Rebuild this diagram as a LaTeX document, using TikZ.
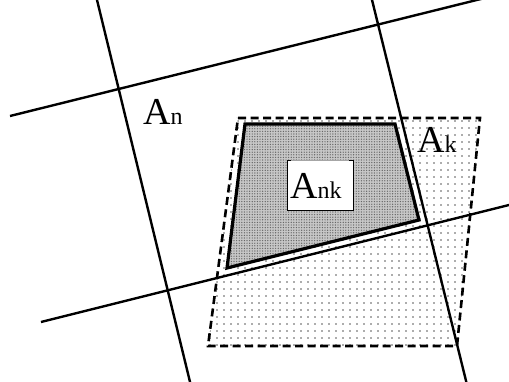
\documentclass[tikz,border=0pt]{standalone}
\usepackage{fontspec}
\setmainfont{Liberation Serif}
\usetikzlibrary{patterns.meta}
\tikzset{
  gridline/.style={line width=2.4pt, black},
  dashbox/.style={line width=2.6pt, dash pattern=on 8pt off 4.5pt},
  sparsedot/.style={fill=black!65},
  trapdots/.style={pattern={Dots[distance=2.6pt, radius=0.7pt]}, pattern color=black!60},
  lbl/.style={inner sep=0pt, font=\fontsize{38}{40}\selectfont},
}
\newcommand{\subsz}[1]{{\fontsize{24}{26}\selectfont #1}}
\begin{document}
\begin{tikzpicture}[x=1pt,y=-1pt]
\useasboundingbox (0,0) rectangle (509,381);
% dashed parallelogram A_k
\coordinate (k1) at (238,118);
\coordinate (k2) at (480,118);
\coordinate (k3) at (457,346);
\coordinate (k4) at (208,346);
\begin{scope}
  \clip (k1) -- (k2) -- (k3) -- (k4) -- cycle;
  \foreach \yy in {121,128,...,345} {
    \foreach \xx in {210,217,...,480} {
      \fill[sparsedot] (\xx,\yy) circle[radius=0.8pt];
    }
  }
\end{scope}
\draw[dashbox] (k1) -- (k2) -- (k3) -- (k4) -- cycle;
% grid lines
\coordinate (a1) at (95.8,-5);
\coordinate (a2) at (191,386);
\coordinate (b1) at (370.8,-5);
\coordinate (b2) at (467.3,386);
\coordinate (c1) at (10,116);
\coordinate (c2) at (515,-9.5);
\coordinate (d1) at (41,322);
\coordinate (d2) at (515,203.5);
\draw[gridline] (a1) -- (a2);
\draw[gridline] (b1) -- (b2);
\draw[gridline] (c1) -- (c2);
\draw[gridline] (d1) -- (d2);
% trapezoid A_nk
\coordinate (t1) at (245,124);
\coordinate (t2) at (395,124);
\coordinate (t3) at (419,220);
\coordinate (t4) at (227,268);
\fill[black!22] (t1) -- (t2) -- (t3) -- (t4) -- cycle;
\fill[trapdots] (t1) -- (t2) -- (t3) -- (t4) -- cycle;
\draw[line width=3.2pt, line join=miter] (t1) -- (t2) -- (t3) -- (t4) -- cycle;
% label box
\fill[white] (287,160) rectangle (353,210);
\draw[line width=1pt] (287,163) -- (287,210) -- (353,210) -- (353,163);
\draw[line width=1pt] (287,163) -- (287,160) -- (291,160);
\draw[line width=1pt] (353,163) -- (353,160) -- (349,160);
\draw[line width=0.4pt, black!35] (291,160) -- (349,160);
% labels
\node[lbl, anchor=base west] (ank) at (290,198) {A\subsz{nk}};
\node[lbl, anchor=base west] (an) at (143,124) {A\subsz{n}};
\node[lbl, anchor=base west] (ak) at (417,152) {A\subsz{k}};
\end{tikzpicture}
\end{document}
